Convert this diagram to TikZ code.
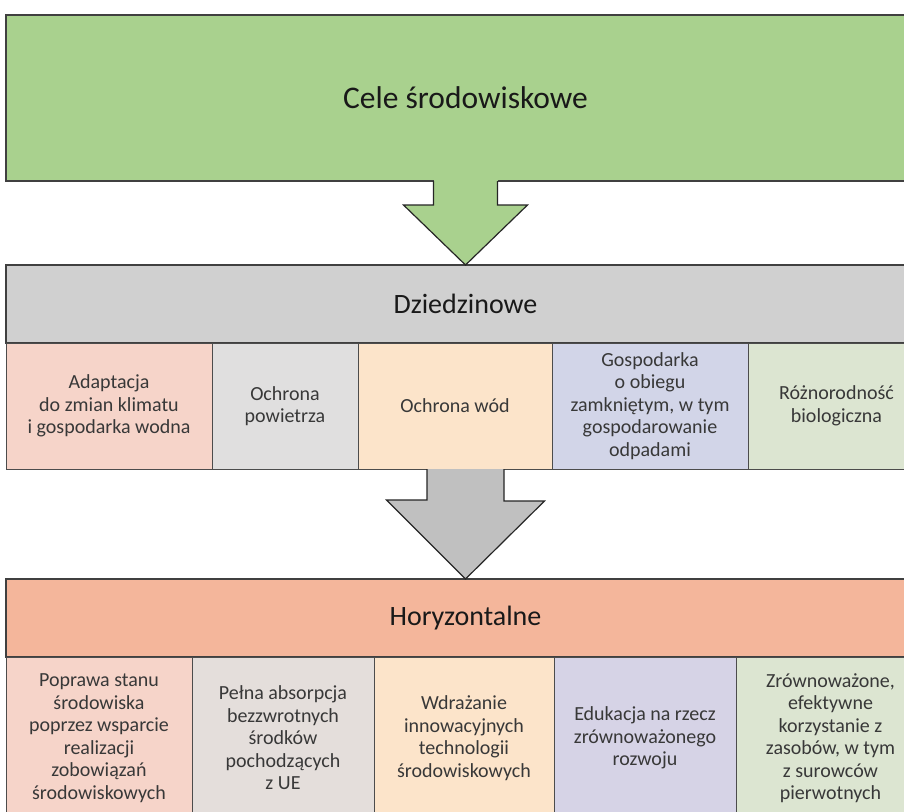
\documentclass[tikz,border=0pt]{standalone}
\usepackage{fontspec}
\setmainfont{Carlito}
\usetikzlibrary{positioning, calc}
\definecolor{celegreen}{HTML}{A9D18E}
\definecolor{headgray}{HTML}{D0D0D0}
\definecolor{arrowgray}{HTML}{C0C0C0}
\definecolor{headsalmon}{HTML}{F4B69B}
\definecolor{boxpink}{HTML}{F6D4C9}
\definecolor{boxgray}{HTML}{E0DFDF}
\definecolor{boxpeach}{HTML}{FCE4CA}
\definecolor{boxlilac}{HTML}{D2D5E8}
\definecolor{boxsage}{HTML}{DCE5D1}
\definecolor{boxgraytwo}{HTML}{E4DEDB}
\definecolor{boxlilactwo}{HTML}{D6D3E6}
\tikzstyle{header} = [rectangle, anchor=north west, minimum width=919pt, inner sep=0pt, outer sep=0pt, text centered, draw=black!75, line width=1.2pt, text=black!90, font={\fontsize{28pt}{32pt}\selectfont}]
\tikzstyle{item} = [rectangle, anchor=north west, inner sep=2pt, outer sep=0pt, align=center, draw=black!70, line width=1pt, text=black!78, font={\fontsize{20pt}{22.5pt}\selectfont}]
\tikzstyle{bigarrow} = [draw=black!85, line width=1.2pt, line join=miter]

\begin{document}
\begin{tikzpicture}[x=1pt, y=-1pt]
    \clip (0,0) rectangle (904,811);
    \fill [white] (0,0) rectangle (904,811);

    \node (cele) [header, fill=celegreen, minimum height=166pt, font={\fontsize{31.5pt}{36pt}\selectfont}] at (6,15) {Cele środowiskowe};
    \node (dziedzinowe) [header, fill=headgray, minimum height=78pt] at (6,265) {Dziedzinowe};

    \node (adaptacja) [item, fill=boxpink, minimum width=206pt, minimum height=126pt] at (dziedzinowe.south west) {Adaptacja\\do zmian klimatu\\i gospodarka wodna};
    \node (powietrze) [item, fill=boxgray, minimum width=146pt, minimum height=126pt] at (adaptacja.north east) {Ochrona\\powietrza};
    \node (wod) [item, fill=boxpeach, minimum width=194pt, minimum height=126pt] at (powietrze.north east) {Ochrona wód};
    \node (obieg) [item, fill=boxlilac, minimum width=196pt, minimum height=126pt] at (wod.north east) {Gospodarka\\o obiegu\\zamkniętym, w tym\\gospodarowanie\\odpadami};
    \node (bioroznorodnosc) [item, fill=boxsage, minimum width=177pt, minimum height=126pt] at (obieg.north east) {Różnorodność\\biologiczna};

    \node (horyzontalne) [header, fill=headsalmon, minimum height=78pt] at (6,579) {Horyzontalne};

    \node (poprawa) [item, fill=boxpink, minimum width=186pt, minimum height=162pt] at (horyzontalne.south west) {Poprawa stanu\\środowiska\\poprzez wsparcie\\realizacji\\zobowiązań\\środowiskowych};
    \node (absorpcja) [item, fill=boxgraytwo, minimum width=182pt, minimum height=162pt] at (poprawa.north east) {Pełna absorpcja\\bezzwrotnych\\środków\\pochodzących\\z UE};
    \node (wdrazanie) [item, fill=boxpeach, minimum width=180pt, minimum height=162pt] at (absorpcja.north east) {Wdrażanie\\innowacyjnych\\technologii\\środowiskowych};
    \node (edukacja) [item, fill=boxlilactwo, minimum width=182pt, minimum height=162pt] at (wdrazanie.north east) {Edukacja na rzecz\\zrównoważonego\\rozwoju};
    \node (zasoby) [item, fill=boxsage, minimum width=189pt, minimum height=162pt] at (edukacja.north east) {Zrównoważone,\\efektywne\\korzystanie z\\zasobów, w tym\\z surowców\\pierwotnych};

    % block arrows between the levels
    \fill [celegreen] ($(cele.south)+(-32,-1.5)$) rectangle ($(cele.south)+(32,1)$);
    \draw [bigarrow, fill=celegreen] ($(cele.south)+(-32,0)$) -- ++(0,24) -- ++(-30,0) -- (dziedzinowe.north) -- ++(62,-60) -- ++(-30,0) -- ($(cele.south)+(32,0)$);
    \draw [bigarrow, fill=arrowgray] ($(wod.south -| horyzontalne.north)+(-38.5,0)$) -- ++(0,31) -- ++(-40.5,0) -- (horyzontalne.north) -- ++(79,-78) -- ++(-40.5,0) -- ($(wod.south -| horyzontalne.north)+(38.5,0)$);
\end{tikzpicture}
\end{document}
